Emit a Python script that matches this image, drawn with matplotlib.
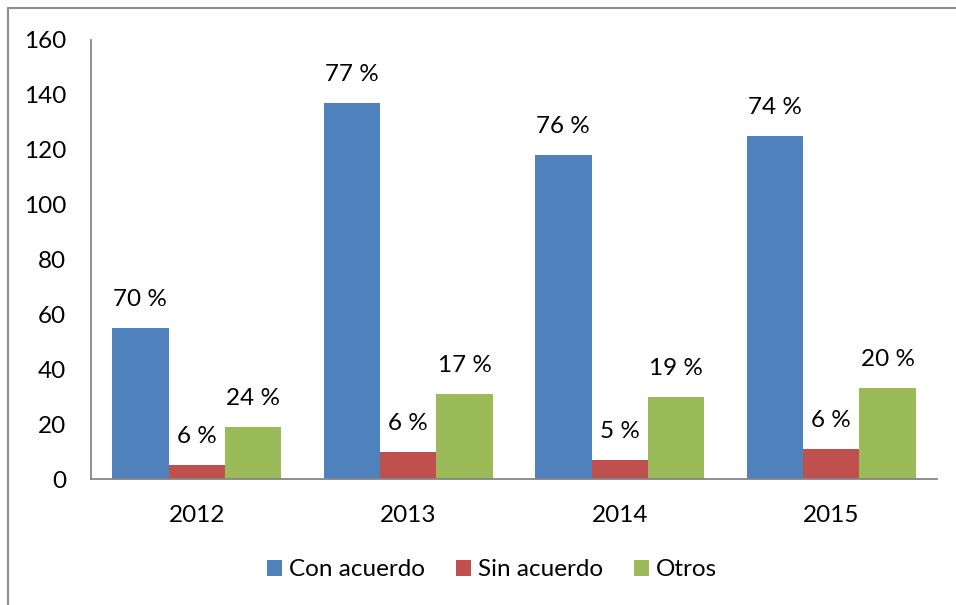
import matplotlib
matplotlib.use("Agg")
import matplotlib.pyplot as plt
import numpy as np
from matplotlib.patches import Rectangle

plt.rcParams['font.family'] = ['Lato', 'DejaVu Sans']

years = ["2012", "2013", "2014", "2015"]
series_names = ["Con acuerdo", "Sin acuerdo", "Otros"]
con_acuerdo = [55, 137, 118, 125]
sin_acuerdo = [5, 10, 7, 11]
otros = [19, 31, 30, 33]
con_labels = ["70 %", "77 %", "76 %", "74 %"]
sin_labels = ["6 %", "6 %", "5 %", "6 %"]
otros_labels = ["24 %", "17 %", "19 %", "20 %"]
y_ticks = [0, 20, 40, 60, 80, 100, 120, 140, 160]

colors = ["#4F81BD", "#C0504D", "#9BBB59"]
FS = 17.5

W, H = 956, 605
fig = plt.figure(figsize=(W / 100, H / 100), dpi=100)
ax = fig.add_axes([91 / W, (H - 479) / H, (937 - 91) / W, (479 - 40) / H])

# outer frame (top & left visible)
fig.patches.append(Rectangle((8 / W, -0.1), 1.2, (H - 8) / H + 0.1, transform=fig.transFigure,
                             fill=False, edgecolor="#8C8C8C", linewidth=1.5))

x = np.arange(len(years))
bw = 0.8 / 3
data = [con_acuerdo, sin_acuerdo, otros]
labels = [con_labels, sin_labels, otros_labels]
for i, (vals, lab, c, name) in enumerate(zip(data, labels, colors, series_names)):
    pos = x + (i - 1) * bw
    ax.bar(pos, vals, width=bw, color=c, label=name)
    for p, v, t in zip(pos, vals, lab):
        ax.annotate(t, (p, v), xytext=(0, 13), textcoords="offset points",
                    ha="center", va="bottom", fontsize=FS, color="black")

ax.set_xlim(-0.5, len(years) - 0.5)
ax.set_ylim(0, 160)
ax.set_yticks(y_ticks)
ax.set_xticks(x)
ax.set_xticklabels(years)
ax.tick_params(axis="both", length=0, labelsize=FS)
ax.tick_params(axis="y", pad=18)
ax.tick_params(axis="x", pad=19)
for s in ["top", "right"]:
    ax.spines[s].set_visible(False)
for s in ["left", "bottom"]:
    ax.spines[s].set_color("#868686")
    ax.spines[s].set_linewidth(1.3)

fig.legend(loc="center", bbox_to_anchor=(492 / W, (H - 570) / H), ncol=3, frameon=False,
           fontsize=FS, handlelength=0.62, handleheight=0.62, handletextpad=0.3,
           columnspacing=1.25)

fig.savefig("out.png", dpi=100)
